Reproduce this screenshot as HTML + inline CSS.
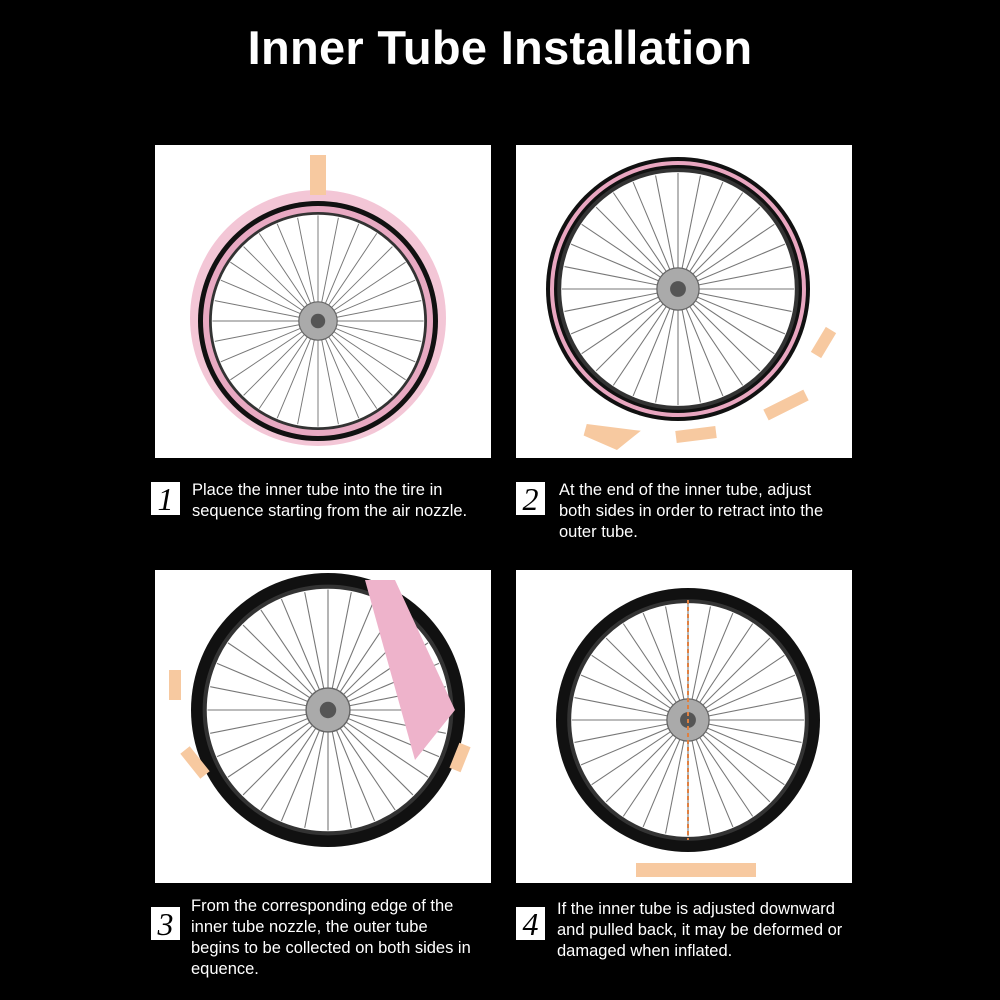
<!DOCTYPE html>
<html><head><meta charset="utf-8"><style>
body{margin:0;background:#000;width:1000px;height:1000px;position:relative;overflow:hidden;font-family:"Liberation Sans",sans-serif;color:#fff}
h1{position:absolute;top:20px;left:0;width:1000px;text-align:center;margin:0;font-size:47px;font-weight:bold;letter-spacing:0.3px}
.p{position:absolute;background:#fff;width:336px;height:313px}
.n{position:absolute;width:29px;height:33px;background:#fff;color:#000;font-family:"Liberation Serif",serif;font-style:italic;font-size:32px;line-height:34px;text-align:center}
.t{position:absolute;font-size:16.5px;line-height:21px;width:285px}
</style></head><body>
<h1>Inner Tube Installation</h1>
<svg width="0" height="0" style="position:absolute"><defs>
<g id="w">
<circle r="100" fill="#111"/>
<circle r="90" fill="#fff" stroke="#333" stroke-width="3"/>
<g stroke="#777" stroke-width="0.8">
<line x1="0" y1="-88" x2="0" y2="88"/><line x1="-88" y1="0" x2="88" y2="0"/>
<line x1="-62" y1="-62" x2="62" y2="62"/><line x1="62" y1="-62" x2="-62" y2="62"/>
<line x1="-34" y1="-81" x2="34" y2="81"/><line x1="34" y1="-81" x2="-34" y2="81"/>
<line x1="-81" y1="-34" x2="81" y2="34"/><line x1="81" y1="-34" x2="-81" y2="34"/>
<line x1="-17" y1="-86" x2="17" y2="86"/><line x1="17" y1="-86" x2="-17" y2="86"/>
<line x1="-86" y1="-17" x2="86" y2="17"/><line x1="86" y1="-17" x2="-86" y2="17"/>
<line x1="-49" y1="-73" x2="49" y2="73"/><line x1="49" y1="-73" x2="-49" y2="73"/>
<line x1="-73" y1="-49" x2="73" y2="49"/><line x1="73" y1="-49" x2="-73" y2="49"/>
</g>
<circle r="16" fill="#aaa" stroke="#666"/><circle r="6" fill="#555"/>
</g></defs></svg>

<div class="p" style="left:155px;top:145px">
<svg width="336" height="313"><circle cx="163" cy="173" r="128" fill="#f3c6d6"/><use href="#w" transform="translate(163,176) scale(1.2)"/><circle cx="163" cy="176" r="112" fill="none" stroke="#e8a9c2" stroke-width="6"/><rect x="155" y="10" width="16" height="40" fill="#f7c9a0"/></svg></div>
<div class="p" style="left:516px;top:145px">
<svg width="336" height="313"><use href="#w" transform="translate(162,144) scale(1.32)"/><circle cx="162" cy="144" r="126" fill="none" stroke="#e9a6c0" stroke-width="4"/><path d="M70 285 l40 5 l-10 8z M160 292 l40 -5 M250 270 l40 -20 M300 210 l15 -25" stroke="#f7c9a0" stroke-width="12" fill="none"/></svg></div>
<div class="p" style="left:155px;top:570px">
<svg width="336" height="313"><use href="#w" transform="translate(173,140) scale(1.37)"/><path d="M210 10 L240 10 L300 140 L260 190 Z" fill="#eeb3cb"/><path d="M20 100 l0 30 M30 180 l20 25 M300 200 l10 -25" stroke="#f7c9a0" stroke-width="12"/></svg></div>
<div class="p" style="left:516px;top:570px">
<svg width="336" height="313"><use href="#w" transform="translate(172,150) scale(1.32)"/><line x1="172" y1="30" x2="172" y2="270" stroke="#e08040" stroke-width="2" stroke-dasharray="4 3"/><path d="M120 300 L240 300" stroke="#f7c9a0" stroke-width="14"/></svg></div>

<div class="n" style="left:151px;top:482px">1</div>
<div class="t" style="left:192px;top:480px">Place the inner tube into the tire in sequence starting from the air nozzle.</div>
<div class="n" style="left:516px;top:482px">2</div>
<div class="t" style="left:559px;top:480px;width:280px">At the end of the inner tube, adjust both sides in order to retract into the outer tube.</div>
<div class="n" style="left:151px;top:907px">3</div>
<div class="t" style="left:191px;top:896px;width:285px">From the corresponding edge of the inner tube nozzle, the outer tube begins to be collected on both sides in equence.</div>
<div class="n" style="left:516px;top:907px">4</div>
<div class="t" style="left:557px;top:899px;width:303px">If the inner tube is adjusted downward and pulled back, it may be deformed or damaged when inflated.</div>
</body></html>
